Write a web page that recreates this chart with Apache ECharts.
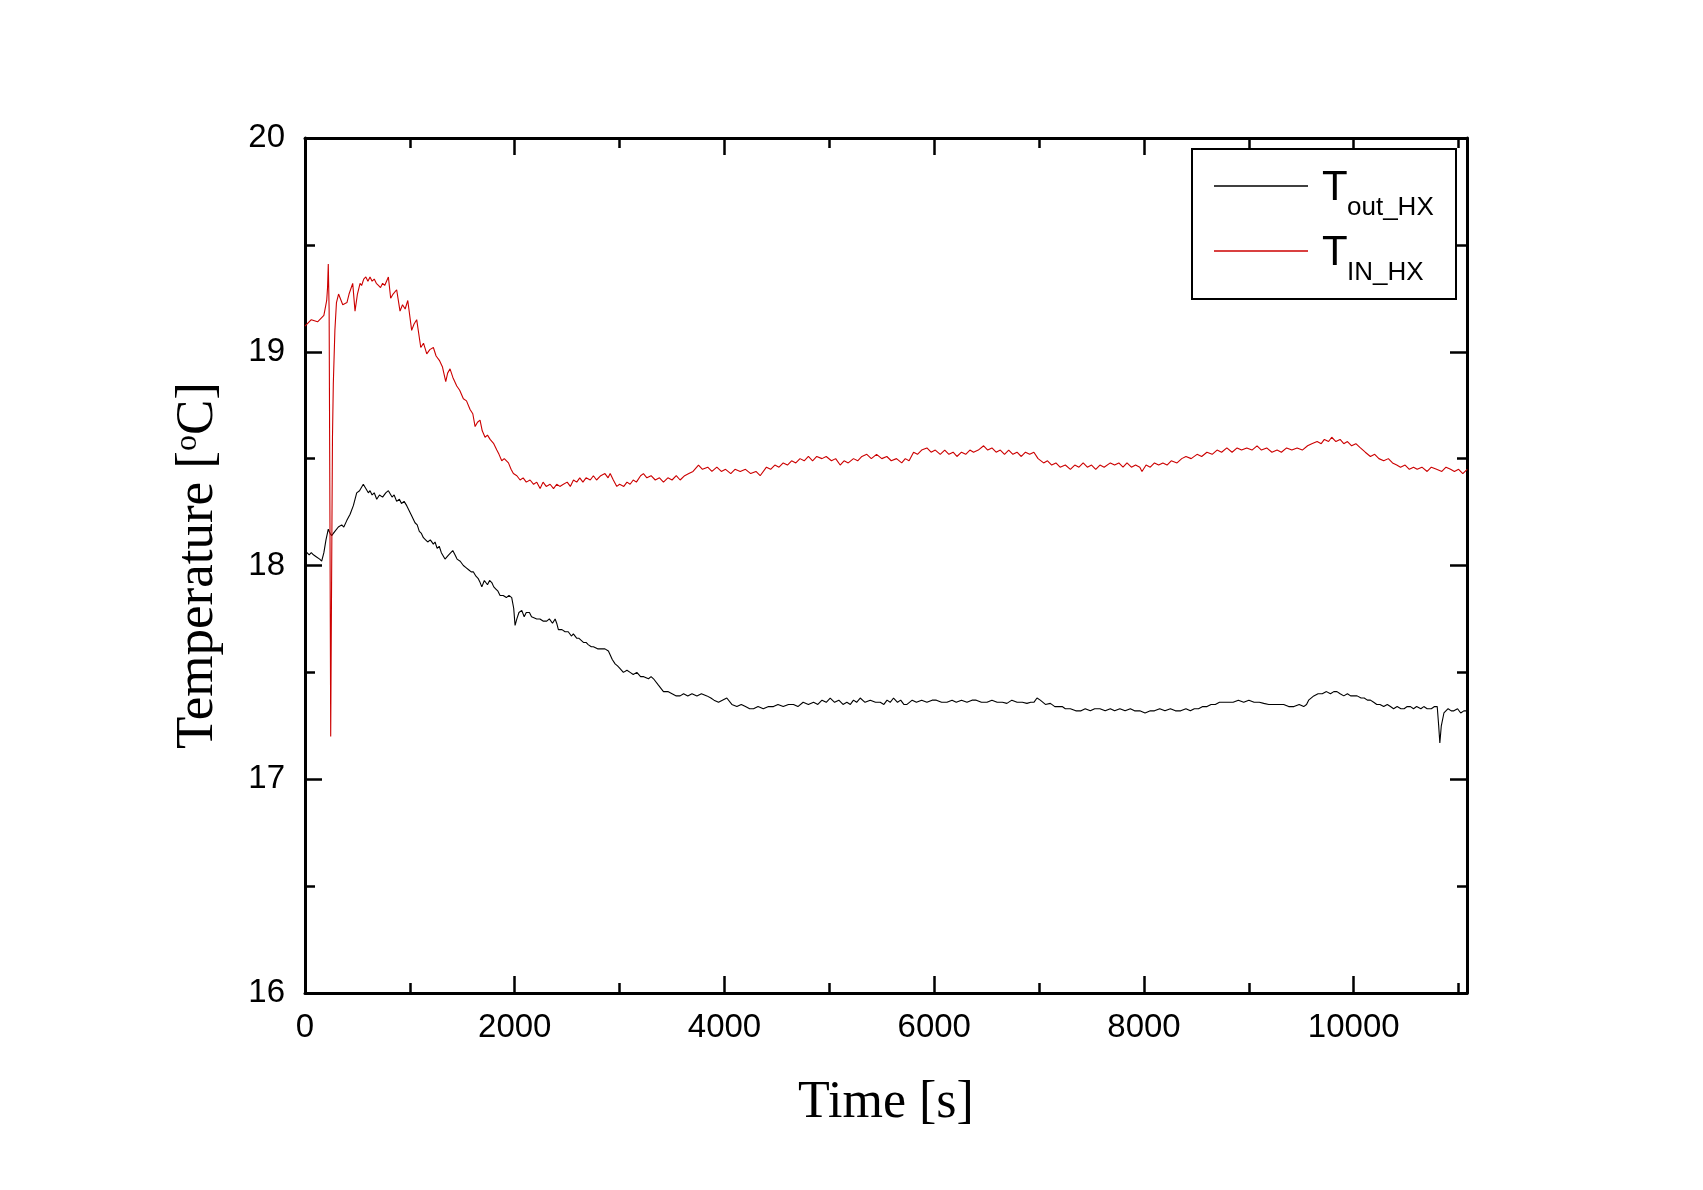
<!DOCTYPE html>
<html>
<head>
<meta charset="utf-8">
<script src="https://cdn.jsdelivr.net/npm/echarts@6/dist/echarts.min.js"></script>
<style>html,body{margin:0;padding:0;background:#fff;}#c{width:1703px;height:1190px;}</style>
</head>
<body>
<div id="c"></div>
<script>
// Time [s] and temperature [°C]
const timeOut = [0,16,40,60,80,110,140,159,180,200,222,240,254,285,318,350,370,398,430,461,493,520,556,580,604,620,640,660,684,710,740,770,795,830,850,874,900,920,945,970,1010,1049,1070,1090,1110,1129,1150,1170,1195,1224,1240,1260,1280,1300,1335,1370,1409,1430,1450,1480,1510,1535,1560,1585,1606,1630,1650,1670,1686,1710,1740,1760,1781,1800,1820,1840,1860,1890,1920,1945,1971,1990,2003,2020,2040,2067,2090,2110,2140,2160,2178,2210,2240,2270,2305,2330,2360,2385,2400,2416,2450,2480,2510,2540,2559,2590,2610,2655,2680,2700,2730,2750,2790,2820,2860,2893,2930,2957,2980,3000,3036,3070,3100,3130,3164,3200,3230,3275,3300,3323,3370,3418,3460,3500,3540,3577,3610,3650,3690,3737,3780,3832,3870,3900,3943,3980,4022,4070,4118,4160,4200,4240,4277,4320,4370,4420,4467,4510,4560,4610,4658,4700,4750,4800,4849,4890,4930,4970,5008,5050,5090,5130,5167,5200,5230,5260,5294,5340,5390,5440,5485,5520,5550,5580,5612,5650,5680,5710,5740,5790,5830,5880,5930,5980,6020,6070,6121,6170,6210,6260,6312,6360,6400,6450,6503,6550,6600,6650,6693,6740,6790,6840,6884,6920,6950,6980,7011,7060,7107,7150,7186,7220,7250,7298,7350,7400,7440,7488,7530,7580,7630,7679,7720,7770,7820,7870,7910,7960,8010,8061,8100,8150,8200,8252,8300,8350,8400,8442,8480,8520,8560,8601,8640,8680,8720,8760,8800,8850,8900,8951,9000,9050,9100,9142,9190,9240,9290,9332,9380,9430,9480,9523,9550,9570,9619,9660,9700,9740,9778,9810,9840,9870,9905,9940,9970,10000,10032,10070,10100,10130,10159,10190,10220,10250,10286,10320,10350,10380,10414,10450,10480,10510,10541,10570,10600,10640,10668,10700,10740,10770,10796,10810,10821,10835,10860,10900,10930,10955,10990,11020,11050,11082];
const tempOut = [18.07,18.07,18.05,18.06,18.05,18.04,18.03,18.02,18.06,18.12,18.17,18.15,18.14,18.16,18.18,18.19,18.18,18.21,18.24,18.28,18.34,18.35,18.38,18.36,18.34,18.35,18.33,18.34,18.31,18.33,18.32,18.34,18.35,18.32,18.33,18.30,18.31,18.29,18.30,18.28,18.24,18.20,18.19,18.16,18.15,18.13,18.12,18.11,18.12,18.10,18.11,18.08,18.09,18.06,18.03,18.05,18.07,18.05,18.03,18.02,18.00,17.99,17.98,17.97,17.97,17.95,17.94,17.92,17.90,17.93,17.91,17.93,17.92,17.90,17.89,17.88,17.86,17.86,17.85,17.86,17.85,17.80,17.72,17.75,17.78,17.79,17.76,17.78,17.78,17.76,17.76,17.75,17.75,17.74,17.74,17.75,17.73,17.75,17.73,17.70,17.70,17.69,17.69,17.67,17.68,17.66,17.66,17.64,17.64,17.63,17.62,17.62,17.61,17.61,17.61,17.60,17.56,17.54,17.53,17.52,17.50,17.51,17.50,17.49,17.50,17.48,17.48,17.47,17.48,17.47,17.44,17.41,17.41,17.40,17.39,17.39,17.40,17.39,17.40,17.39,17.40,17.39,17.38,17.37,17.36,17.37,17.38,17.35,17.34,17.35,17.34,17.33,17.33,17.34,17.33,17.34,17.34,17.35,17.34,17.35,17.35,17.34,17.36,17.35,17.36,17.35,17.37,17.36,17.38,17.36,17.37,17.35,17.36,17.35,17.37,17.36,17.38,17.36,17.37,17.36,17.36,17.35,17.37,17.36,17.38,17.36,17.37,17.35,17.35,17.37,17.36,17.37,17.36,17.37,17.37,17.36,17.36,17.37,17.36,17.37,17.36,17.37,17.37,17.36,17.36,17.37,17.36,17.36,17.355,17.37,17.36,17.36,17.355,17.36,17.36,17.38,17.37,17.35,17.355,17.34,17.34,17.34,17.33,17.33,17.32,17.32,17.33,17.32,17.33,17.33,17.32,17.33,17.32,17.33,17.32,17.33,17.32,17.32,17.31,17.32,17.32,17.33,17.32,17.33,17.32,17.32,17.33,17.32,17.33,17.33,17.34,17.34,17.35,17.35,17.36,17.36,17.36,17.36,17.37,17.36,17.37,17.36,17.36,17.355,17.35,17.35,17.35,17.35,17.34,17.34,17.35,17.34,17.35,17.37,17.39,17.40,17.40,17.41,17.40,17.41,17.41,17.40,17.39,17.40,17.39,17.39,17.39,17.38,17.38,17.37,17.37,17.36,17.35,17.35,17.34,17.35,17.34,17.33,17.34,17.33,17.33,17.34,17.34,17.33,17.34,17.33,17.34,17.33,17.33,17.34,17.34,17.25,17.17,17.25,17.31,17.33,17.32,17.32,17.33,17.31,17.32,17.32];
const timeIn = [0,60,120,180,207,215,222,230,238,245,252,262,270,285,300,320,360,400,420,455,477,500,525,540,560,580,600,620,640,660,680,700,720,740,760,795,817,840,874,906,930,955,980,1017,1040,1065,1104,1130,1161,1190,1224,1250,1281,1310,1342,1360,1383,1410,1447,1475,1510,1540,1574,1600,1622,1645,1669,1690,1717,1740,1765,1800,1829,1850,1876,1900,1940,1965,1987,2020,2051,2080,2110,2146,2180,2210,2242,2270,2300,2337,2370,2400,2430,2464,2500,2530,2560,2591,2620,2650,2680,2720,2750,2780,2820,2860,2890,2910,2940,2973,3000,3040,3070,3100,3130,3160,3200,3227,3260,3300,3340,3380,3418,3460,3500,3540,3577,3620,3660,3700,3752,3790,3840,3880,3927,3970,4010,4060,4100,4150,4200,4250,4300,4340,4400,4440,4480,4520,4560,4600,4640,4680,4720,4760,4800,4840,4880,4929,4970,5020,5060,5103,5140,5180,5230,5270,5310,5357,5400,5450,5500,5548,5590,5640,5690,5724,5760,5803,5840,5880,5930,5970,6010,6057,6100,6140,6180,6216,6260,6300,6340,6375,6420,6471,6510,6550,6590,6630,6670,6710,6750,6789,6830,6870,6910,6950,6990,7043,7080,7120,7160,7200,7250,7298,7340,7380,7420,7460,7500,7540,7580,7620,7679,7720,7760,7800,7838,7880,7920,7960,7981,8020,8060,8100,8140,8180,8220,8260,8315,8360,8400,8450,8506,8550,8600,8650,8697,8740,8790,8840,8888,8930,8980,9030,9078,9120,9170,9220,9269,9310,9360,9410,9460,9510,9560,9600,9651,9690,9720,9760,9790,9830,9870,9905,9940,9980,10020,10064,10110,10159,10200,10240,10286,10330,10370,10410,10446,10490,10530,10570,10605,10650,10700,10740,10790,10840,10880,10923,10960,11000,11040,11082];
const tempIn = [19.12,19.15,19.14,19.17,19.24,19.30,19.41,19.20,18.20,17.20,17.80,18.60,18.85,19.10,19.23,19.27,19.22,19.23,19.27,19.32,19.19,19.27,19.32,19.31,19.34,19.35,19.33,19.35,19.33,19.34,19.32,19.31,19.30,19.32,19.31,19.35,19.25,19.27,19.29,19.19,19.22,19.20,19.24,19.10,19.13,19.15,19.02,19.04,18.99,19.01,19.02,18.98,18.96,18.93,18.86,18.90,18.92,18.88,18.84,18.82,18.78,18.77,18.73,18.71,18.65,18.67,18.68,18.63,18.60,18.61,18.59,18.57,18.54,18.52,18.49,18.50,18.48,18.45,18.43,18.42,18.40,18.41,18.39,18.40,18.38,18.39,18.36,18.39,18.37,18.38,18.36,18.38,18.37,18.38,18.39,18.37,18.40,18.39,18.41,18.39,18.41,18.40,18.42,18.40,18.42,18.43,18.41,18.43,18.40,18.37,18.38,18.37,18.39,18.38,18.40,18.39,18.42,18.43,18.41,18.42,18.40,18.41,18.39,18.41,18.40,18.42,18.40,18.42,18.43,18.44,18.47,18.45,18.46,18.44,18.46,18.44,18.45,18.43,18.45,18.44,18.45,18.43,18.44,18.42,18.46,18.45,18.47,18.46,18.48,18.47,18.49,18.48,18.50,18.49,18.51,18.49,18.51,18.50,18.51,18.49,18.50,18.47,18.49,18.48,18.50,18.49,18.51,18.52,18.50,18.52,18.50,18.51,18.49,18.50,18.48,18.50,18.49,18.53,18.52,18.54,18.55,18.53,18.54,18.52,18.54,18.52,18.53,18.51,18.53,18.52,18.54,18.53,18.54,18.56,18.54,18.55,18.53,18.54,18.52,18.54,18.52,18.53,18.51,18.53,18.52,18.53,18.50,18.48,18.49,18.47,18.48,18.46,18.47,18.45,18.47,18.46,18.48,18.46,18.47,18.45,18.47,18.46,18.48,18.47,18.48,18.46,18.48,18.46,18.47,18.46,18.44,18.47,18.46,18.48,18.47,18.48,18.47,18.49,18.48,18.50,18.51,18.50,18.52,18.51,18.53,18.52,18.54,18.53,18.55,18.53,18.55,18.54,18.55,18.54,18.56,18.54,18.55,18.53,18.54,18.53,18.55,18.54,18.55,18.54,18.56,18.57,18.58,18.57,18.59,18.58,18.60,18.58,18.59,18.57,18.58,18.56,18.57,18.55,18.53,18.51,18.52,18.50,18.49,18.50,18.48,18.47,18.46,18.47,18.45,18.46,18.45,18.46,18.44,18.46,18.45,18.44,18.46,18.45,18.44,18.45,18.43,18.45];
const xMajorStep = 2000, xMinorStep = 1000, xMax = 11080;
const yMin = 16, yMax = 20, yStep = 1;
const seriesNames = ['T_out_HX', 'T_IN_HX'];
const legendMain = ['T', 'T'];
const legendSub = ['out_HX', 'IN_HX'];
const seriesColors = ['#000000', '#cc0000'];

const zip = (a, b) => a.map((v, i) => [v, b[i]]);
const sans = 'Liberation Sans, Arial, sans-serif';
const serif = 'Liberation Serif, Times New Roman, serif';
const tickStyle = {color: '#000', width: 2.5};

function xAx(pos, interval, opts) {
  return Object.assign({
    type: 'value', position: pos, min: 0, max: xMax, interval: interval,
    axisLine: {show: false, onZero: false},
    axisTick: {show: false},
    axisLabel: {show: false},
    splitLine: {show: false}
  }, opts);
}
function yAx(pos, opts) {
  return Object.assign({
    type: 'value', position: pos, min: yMin, max: yMax, interval: yStep,
    axisLine: {show: false, onZero: false},
    axisTick: {show: false},
    axisLabel: {show: false},
    splitLine: {show: false}
  }, opts);
}
const lineOn = {show: true, onZero: false, lineStyle: {color: '#000', width: 3}};
const majorTick = {show: true, inside: true, length: 17, lineStyle: tickStyle};
const minorTickX = {show: true, inside: true, length: 10, lineStyle: tickStyle};

// legend box (drawn as graphic so the subscripts sit exactly as in the reference)
const LG = {x: 1192, y: 149, w: 264, h: 150, lineX0: 1214, lineX1: 1308, rowY: [186, 251], textX: 1322, subX: 1347};
const legendGraphics = [{
  type: 'rect', z: 100, shape: {x: LG.x, y: LG.y, width: LG.w, height: LG.h},
  style: {fill: '#fff', stroke: '#000', lineWidth: 2}
}];
seriesNames.forEach((n, i) => {
  const cy = LG.rowY[i];
  legendGraphics.push({type: 'line', z: 101, shape: {x1: LG.lineX0, y1: cy, x2: LG.lineX1, y2: cy},
    style: {stroke: seriesColors[i], lineWidth: 1.3}});
  legendGraphics.push({type: 'text', z: 101, x: LG.textX, y: cy + 23,
    style: {text: legendMain[i], font: '42px ' + sans, fill: '#000', textAlign: 'left', textVerticalAlign: 'bottom', verticalAlign: 'bottom'}});
  legendGraphics.push({type: 'text', z: 101, x: LG.subX, y: cy + 35,
    style: {text: legendSub[i], font: '26px ' + sans, fill: '#000', textAlign: 'left', textVerticalAlign: 'bottom', verticalAlign: 'bottom'}});
});

const chart = echarts.init(document.getElementById('c'), null, {renderer: 'canvas'});
chart.setOption({
  animation: false,
  backgroundColor: '#fff',
  grid: {left: 305, top: 138, right: 236, bottom: 197, containLabel: false},
  xAxis: [
    xAx('bottom', xMajorStep, {
      axisLine: lineOn,
      axisLabel: {show: true, fontFamily: sans, fontSize: 33, color: '#000', margin: 18, showMaxLabel: false,
                  formatter: v => String(v)},
      name: 'Time [s]', nameLocation: 'middle', nameGap: 84,
      nameTextStyle: {fontFamily: serif, fontSize: 52, color: '#000'}
    }),
    xAx('bottom', xMajorStep, {axisTick: majorTick}),
    xAx('bottom', xMinorStep, {axisTick: minorTickX}),
    xAx('top', xMajorStep, {axisLine: lineOn, axisTick: majorTick}),
    xAx('top', xMinorStep, {axisTick: minorTickX})
  ],
  yAxis: [
    yAx('left', {
      axisLine: lineOn,
      axisLabel: {show: true, fontFamily: sans, fontSize: 33, color: '#000', margin: 20},
      name: 'Temperature [{sup|o}C]', nameLocation: 'middle', nameGap: 80, nameRotate: 90,
      nameTextStyle: {fontFamily: serif, fontSize: 53, color: '#000',
        rich: {sup: {fontFamily: serif, fontSize: 32, color: '#000', verticalAlign: 'top', lineHeight: 32, padding: [0, 0, 22, 0]}}}
    }),
    yAx('left', {axisTick: majorTick, minorTick: {show: true, splitNumber: 2, length: 10, lineStyle: tickStyle}}),
    yAx('right', {axisLine: lineOn, axisTick: majorTick, minorTick: {show: true, splitNumber: 2, length: 10, lineStyle: tickStyle}})
  ],
  graphic: {elements: legendGraphics},
  series: [
    {name: seriesNames[0], type: 'line', xAxisIndex: 0, yAxisIndex: 0, data: zip(timeOut, tempOut),
     symbol: 'none', showSymbol: false, lineStyle: {color: seriesColors[0], width: 1.1}, itemStyle: {color: seriesColors[0]}},
    {name: seriesNames[1], type: 'line', xAxisIndex: 0, yAxisIndex: 0, data: zip(timeIn, tempIn),
     symbol: 'none', showSymbol: false, lineStyle: {color: seriesColors[1], width: 1.1}, itemStyle: {color: seriesColors[1]}}
  ]
});
</script>
</body>
</html>
